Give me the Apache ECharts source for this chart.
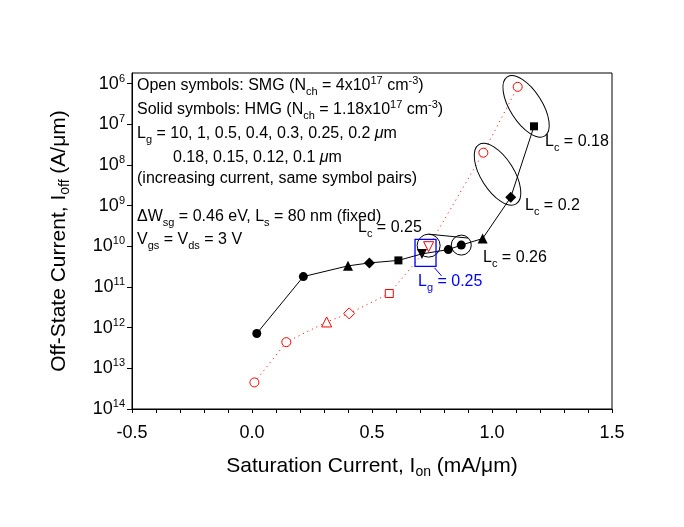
<!DOCTYPE html>
<html><head><meta charset="utf-8">
<script src="https://cdn.jsdelivr.net/npm/echarts@6/dist/echarts.min.js"></script>
<style>html,body{margin:0;padding:0;background:#fff}#c{width:684px;height:527px}</style>
</head><body><div id="c"></div>
<script>
// ---- data ----
const xTickLabels = ['-0.5', '0.0', '0.5', '1.0', '1.5'];
const yTickExponents = [14, 13, 12, 11, 10, 9, 8, 7, 6]; // shown as 10^n (as printed in the figure)

// Solid symbols: HMG
const hmgIon  = [0.02, 0.214, 0.40, 0.489, 0.61, 0.708, 0.818, 0.872, 0.961, 1.078, 1.175];
const hmgIoff = [7.2e-13, 1.8e-11, 3.3e-11, 3.9e-11, 4.5e-11, 6.5e-11, 8.3e-11, 1.07e-10, 1.55e-10, 1.6e-9, 8.9e-8];
const hmgSymbols = ['circle', 'circle', 'triangle', 'diamond', 'rect', 'down', 'circle', 'circle', 'triangle', 'diamond', 'rect'];

// Open symbols: SMG
const smgIon  = [0.01, 0.143, 0.311, 0.405, 0.572, 0.736, 0.964, 1.107];
const smgIoff = [4.5e-14, 4.4e-13, 1.38e-12, 2.24e-12, 6.9e-12, 9.8e-11, 2.0e-8, 8.3e-7];
const smgSymbols = ['circle', 'circle', 'triangle', 'diamond', 'rect', 'down', 'circle', 'circle'];

const annotLines = [
  'Open symbols: SMG (N{sub|ch} = 4x10{sup|17} cm{sup|-3})',
  'Solid symbols: HMG (N{sub|ch} = 1.18x10{sup|17} cm{sup|-3})',
  'L{sub|g} = 10, 1, 0.5, 0.4, 0.3, 0.25, 0.2 {mu|μ}m',
  '0.18, 0.15, 0.12, 0.1 {mu|μ}m',
  '(increasing current, same symbol pairs)',
  'ΔW{sub|sg} = 0.46 eV, L{sub|s} = 80 nm (fixed)',
  'V{sub|gs} = V{sub|ds} = 3 V'
];

// ---- chart ----
const FF = '"Liberation Sans", Arial, sans-serif';
const chart = echarts.init(document.getElementById('c'), null, {renderer: 'canvas'});

const symSize = {circle: 9, triangle: 10, diamond: 11, rect: 8, down: 10};
function mkData(xs, ys, syms) {
  return xs.map((x, i) => {
    const s = syms[i];
    return {
      value: [x, ys[i]],
      symbol: s === 'down' ? 'triangle' : s,
      symbolRotate: s === 'down' ? 180 : 0,
      symbolSize: symSize[s]
    };
  });
}
const yTickValues = yTickExponents.map(e => Math.pow(10, -e));

const subRich = {
  sub: {fontSize: 11, fontFamily: FF, color: 'inherit', padding: [11, 0, 0, 0]},
  sup: {fontSize: 11, fontFamily: FF, color: 'inherit', padding: [0, 0, 10, 0]},
  mu: {fontSize: 16, fontFamily: FF, fontStyle: 'italic', color: 'inherit'}
};

chart.setOption({
  animation: false,
  backgroundColor: '#fff',
  grid: {left: 132, top: 73, width: 480, height: 336, show: true, borderColor: '#000', borderWidth: 1, backgroundColor: 'transparent'},
  xAxis: {
    type: 'value', min: -0.5, max: 1.5, interval: 0.5,
    axisLine: {onZero: false, lineStyle: {color: '#000', width: 1}},
    axisTick: {length: 4, lineStyle: {color: '#000'}},
    minorTick: {show: true, splitNumber: 5, length: 4, lineStyle: {color: '#000'}},
    splitLine: {show: false},
    axisLabel: {
      color: '#000', fontSize: 18, fontFamily: FF, margin: 15,
      formatter: v => { const i = Math.round((v + 0.5) / 0.5); return xTickLabels[i] || ''; }
    },
    name: 'Saturation Current, I{sub|on} (mA/μm)',
    nameLocation: 'middle', nameGap: 44,
    nameTextStyle: {color: '#000', fontSize: 21, fontFamily: FF, rich: {sub: {fontSize: 14, fontFamily: FF, padding: [12, 0, 0, 0]}}}
  },
  yAxis: {
    type: 'log', logBase: 10, min: 1e-14, max: Math.pow(10, -5.74), splitNumber: 8,
    axisLine: {onZero: false, lineStyle: {color: '#000', width: 1}},
    axisTick: {length: 5, lineStyle: {color: '#000'}, customValues: yTickValues},
    splitLine: {show: false},
    axisLabel: {
      customValues: yTickValues,
      margin: 7, color: '#000',
      formatter: v => {
        const e = Math.round(-Math.log10(v));
        return '{b|10}{s|' + e + '}';
      },
      rich: {
        b: {fontSize: 18, fontFamily: FF, color: '#000'},
        s: {fontSize: 11, fontFamily: FF, color: '#000', padding: [0, 0, 10, 0]}
      }
    },
    name: 'Off-State Current, I{sub|off} (A/μm)',
    nameLocation: 'middle', nameGap: 60,
    nameTextStyle: {color: '#000', fontSize: 21, fontFamily: FF, rich: {sub: {fontSize: 14, fontFamily: FF, padding: [12, 0, 0, 0]}}}
  },
  series: [
    {
      name: 'SMG', type: 'line', data: mkData(smgIon, smgIoff, smgSymbols),
      lineStyle: {color: '#ff0000', width: 1, type: [1, 4]},
      itemStyle: {color: '#fff', borderColor: '#ff0000', borderWidth: 1},
      z: 3
    },
    {
      name: 'HMG', type: 'line', data: mkData(hmgIon, hmgIoff, hmgSymbols),
      lineStyle: {color: '#000', width: 1},
      itemStyle: {color: '#000', borderColor: '#000', borderWidth: 0},
      z: 2
    }
  ]
});

// ---- annotations ----
function px(x, y) { return chart.convertToPixel({gridIndex: 0}, [x, y]); }
const g = [];
// text block
const lineY = [86, 110, 134, 158, 179, 217, 240];
annotLines.forEach((t, i) => {
  g.push({type: 'text', x: i === 3 ? 173 : 137, y: lineY[i], z: 10,
    style: {text: t, font: '16px ' + FF, fill: '#000', verticalAlign: 'middle', rich: subRich}});
});
// labels
function lab(t, x, y, col) {
  g.push({type: 'text', x: x, y: y, z: 10,
    style: {text: t, font: '16px ' + FF, fill: col || '#000', verticalAlign: 'middle', rich: subRich}});
}
lab('L{sub|c} = 0.18', 545, 142);
lab('L{sub|c} = 0.2', 525, 206);
lab('L{sub|c} = 0.26', 483, 258);
lab('L{sub|c} = 0.25', 358, 228);
lab('L{sub|g} = 0.25', 418, 282, '#0000ff');

// ellipses around pairs
const e1 = px(1.142, Math.pow(10, -6.56));
const e2 = px(1.023, Math.pow(10, -8.23));
[[e1, 35, 16, 57.5], [e2, 35, 16.5, 57.8]].forEach(([c, rx, ry, ang]) => {
  g.push({type: 'ellipse', x: c[0], y: c[1], rotation: -ang * Math.PI / 180, z: 5,
    shape: {cx: 0, cy: 0, rx: rx, ry: ry}, style: {fill: 'none', stroke: '#000', lineWidth: 1}});
});
// small circles
const c1 = px(smgIon[5], smgIoff[5]);
const c2 = px(hmgIon[7], hmgIoff[7]);
g.push({type: 'circle', shape: {cx: c1[0], cy: c1[1] - 1, r: 11.5}, style: {fill: 'none', stroke: '#000', lineWidth: 1}, z: 5});
g.push({type: 'circle', shape: {cx: c2[0], cy: c2[1], r: 10}, style: {fill: 'none', stroke: '#000', lineWidth: 1}, z: 5});
g.push({type: 'line', shape: {x1: c1[0], y1: c1[1] - 12.5, x2: c2[0] + 7, y2: c2[1] - 7}, style: {stroke: '#000', lineWidth: 1}, z: 5});
// blue box
const bb = px(0.723, 6.9e-11);
g.push({type: 'rect', shape: {x: bb[0] - 10.5, y: bb[1] - 13.5, width: 21, height: 27}, style: {fill: 'none', stroke: '#0000ff', lineWidth: 1.3}, z: 6});
g.push({type: 'line', shape: {x1: bb[0] + 9, y1: bb[1] + 15, x2: bb[0] + 16, y2: bb[1] + 23}, style: {stroke: '#0000ff', lineWidth: 1}, z: 6});

chart.setOption({graphic: g});
</script>
</body></html>
